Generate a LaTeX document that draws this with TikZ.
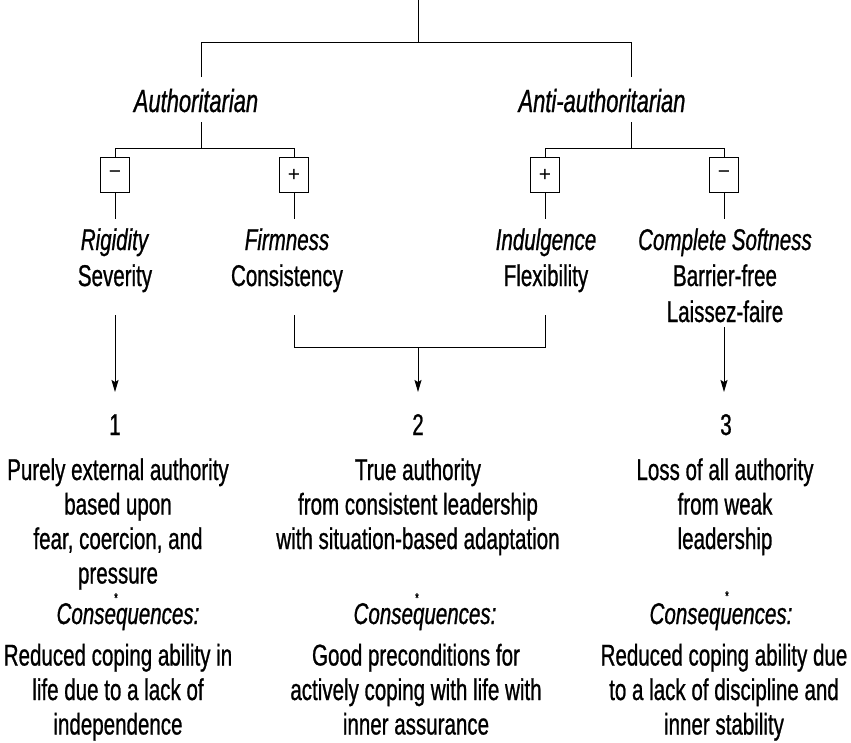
\documentclass[tikz,border=0pt]{standalone}
\usepackage{fontspec}
\setmainfont{Liberation Sans}[FakeStretch=0.685,FakeBold=0.8]
\newfontfamily\signfont{Liberation Sans}
\usetikzlibrary{arrows.meta}
\begin{document}
\begin{tikzpicture}[x=1pt,y=-1pt,
  every node/.style={inner sep=0pt, outer sep=0pt},
  lbl/.style={font=\fontsize{30}{34.5}\selectfont, align=center, anchor=base},
  tlbl/.style={font=\fontsize{30}{36}\selectfont, align=center, anchor=base},
  ilbl/.style={font=\fontsize{30}{34.5}\selectfont\itshape, align=center, anchor=base},
  head/.style={font=\fontsize{32}{34.5}\selectfont\itshape, align=center, anchor=base},
  sign/.style={draw, line width=1pt, minimum width=29pt, minimum height=35pt, font=\signfont\fontsize{21}{21}\selectfont},
  ln/.style={line width=1pt},
  arr/.style={line width=1pt, -{Stealth[length=12pt,width=7pt,inset=2pt]}},
  star/.style={font=\fontsize{14}{14}\selectfont}
]
\useasboundingbox (0,0) rectangle (851,742);

% headings
\node[head] (auth) at (196,112) {Authoritarian};
\node[head] (anti) at (602,112) {Anti-authoritarian};

% sign boxes
\node[sign] (s1) at (115,175) {−};
\node[sign] (s2) at (294,175) {+};
\node[sign] (s3) at (545,175) {+};
\node[sign] (s4) at (724,175) {−};

% styles (anchor = baseline of last line)
\node[tlbl] (t1) at (115,286) {\textit{Rigidity}\\Severity};
\node[tlbl] (t2) at (287,286) {\textit{Firmness}\\Consistency};
\node[tlbl] (t3) at (546,286) {\textit{Indulgence}\\Flexibility};
\node[tlbl] (t4) at (725,322) {\textit{Complete Softness}\\Barrier-free\\Laissez-faire};

% outcomes
\node[lbl] (n1) at (115,435) {1};
\node[lbl] (n2) at (418,435) {2};
\node[lbl] (n3) at (726,435) {3};
\node[lbl] (d1) at (118,583.5) {Purely external authority\\based upon\\fear, coercion, and\\pressure};
\node[lbl] (d2) at (418,549) {True authority\\from consistent leadership\\with situation-based adaptation};
\node[lbl] (d3) at (725,549) {Loss of all authority\\from weak\\leadership};

\node[star] (st1) at (116,598) {*};
\node[star] (st2) at (417,598) {*};
\node[star] (st3) at (727,596) {*};
\node[ilbl] (c1) at (128,624) {Consequences:};
\node[ilbl] (c2) at (425,624) {Consequences:};
\node[ilbl] (c3) at (721,624) {Consequences:};
\node[lbl] (e1) at (118,734.5) {Reduced coping ability in\\life due to a lack of\\independence};
\node[lbl] (e2) at (416,734.5) {Good preconditions for\\actively coping with life with\\inner assurance};
\node[lbl] (e3) at (724,734.5) {Reduced coping ability due\\to a lack of discipline and\\inner stability};

% connectors, top
\coordinate (top) at (418,0);
\coordinate (j0) at (418,42);
\coordinate (hL) at (201,42);
\coordinate (hR) at (631,42);
\coordinate (aT) at (201,77);
\coordinate (aaT) at (631,77);
\coordinate (aB) at (201,122);
\coordinate (aaB) at (631,122);
\coordinate (bL) at (201,148);
\coordinate (bR) at (631,148);
\draw[ln] (top) -- (j0);
\draw[ln] (aT) -- (hL) -- (hR) -- (aaT);
\draw[ln] (aB) -- (bL);
\draw[ln] (aaB) -- (bR);
\draw[ln] (s1.north) -- (s1.north |- bL) -- (s2.north |- bL) -- (s2.north);
\draw[ln] (s3.north) -- (s3.north |- bR) -- (s4.north |- bR) -- (s4.north);
\foreach \s in {s1,s2,s3,s4} { \draw[ln] (\s.south) -- ++(0,26.5); }

% connectors, bottom
\coordinate (l1) at (115,315);
\coordinate (a1) at (115,392);
\coordinate (l2) at (294,315);
\coordinate (l3) at (545,315);
\coordinate (m2) at (418,347);
\coordinate (a2) at (418,392);
\coordinate (l4) at (724,327);
\coordinate (a3) at (724,392);
\draw[arr] (l1) -- (a1);
\draw[ln] (l2) -- (l2 |- m2) -- (l3 |- m2) -- (l3);
\draw[arr] (m2) -- (a2);
\draw[arr] (l4) -- (a3);
\end{tikzpicture}
\end{document}
